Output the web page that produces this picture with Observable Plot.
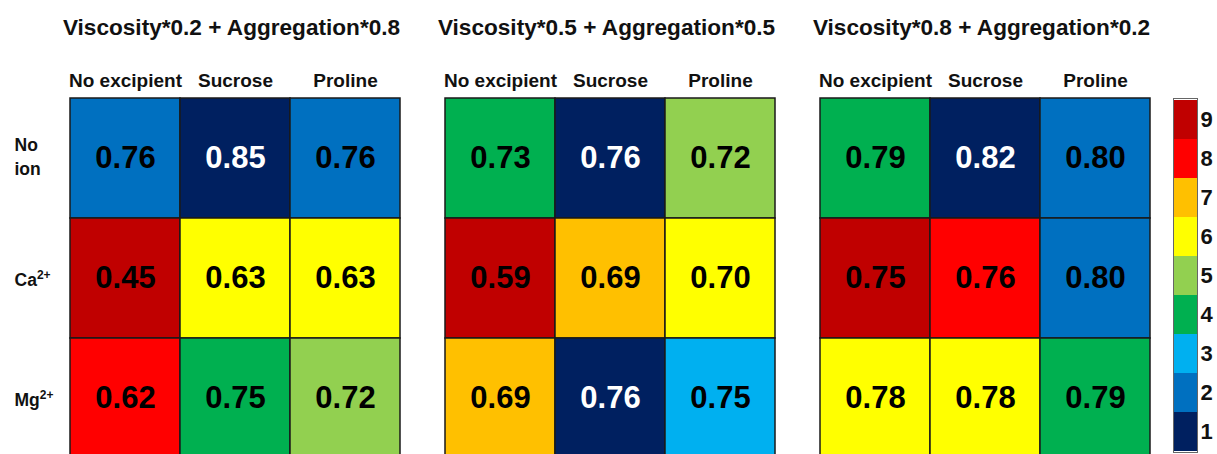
<!DOCTYPE html>
<html>
<head>
<meta charset="utf-8">
<script src="https://cdn.jsdelivr.net/npm/d3@7"></script>
<script src="https://cdn.jsdelivr.net/npm/@observablehq/plot@0.6"></script>
<style>
  html, body { margin: 0; padding: 0; background: #fff; overflow: hidden; }
  #wrap { position: relative; width: 1217px; height: 454px; }
  #wrap > svg { position: absolute; top: 0; }
</style>
</head>
<body>
<div id="wrap"></div>
<script>
const panels = ["Viscosity*0.2 + Aggregation*0.8", "Viscosity*0.5 + Aggregation*0.5", "Viscosity*0.8 + Aggregation*0.2"];
const excipients = ["No excipient", "Sucrose", "Proline"];
const ions = ["No\nion", "Ca²⁺", "Mg²⁺"];

// row-major: rows = ions, columns = excipients
const values1 = [0.76, 0.85, 0.76, 0.45, 0.63, 0.63, 0.62, 0.75, 0.72];
const values2 = [0.73, 0.76, 0.72, 0.59, 0.69, 0.70, 0.69, 0.76, 0.75];
const values3 = [0.79, 0.82, 0.80, 0.75, 0.76, 0.80, 0.78, 0.78, 0.79];
const ranks1 = [2, 1, 2, 9, 6, 6, 8, 4, 5];
const ranks2 = [4, 1, 5, 9, 7, 6, 7, 1, 3];
const ranks3 = [4, 1, 2, 9, 8, 2, 6, 6, 4];

const rankLevels = [1, 2, 3, 4, 5, 6, 7, 8, 9];
const rankColors = ["#002060", "#0070C0", "#00B0F0", "#00B050", "#92D050", "#FFFF00", "#FFC000", "#FF0000", "#C00000"];

const allValues = [values1, values2, values3];
const allRanks = [ranks1, ranks2, ranks3];
const data = [];
panels.forEach((p, pi) => {
  ions.forEach((ion, r) => {
    excipients.forEach((ex, c) => {
      data.push({panel: p, ion, ex, v: allValues[pi][r * 3 + c], rank: allRanks[pi][r * 3 + c]});
    });
  });
});

const font = "'Liberation Sans', Arial, Helvetica, sans-serif";

const main = Plot.plot({
  width: 1217,
  height: 460,
  marginLeft: 68,
  marginRight: 66,
  marginTop: 98,
  marginBottom: 2,
  style: {fontFamily: font, fontWeight: "bold", color: "#111", background: "transparent"},
  fx: {domain: panels, paddingInner: 0.116, paddingOuter: 0, axis: null},
  x: {domain: excipients, padding: 0},
  y: {domain: ions, padding: 0},
  color: {type: "ordinal", domain: rankLevels, range: rankColors},
  marks: [
    Plot.cell(data, {fx: "panel", x: "ex", y: "ion", fill: "rank", stroke: "#1a1a1a", strokeWidth: 1.5}),
    Plot.text(data, {fx: "panel", x: "ex", y: "ion", text: d => d.v.toFixed(2),
      fill: d => d.rank === 1 ? "white" : "black", fontSize: 31, fontWeight: "bold"}),
    Plot.axisX({anchor: "top", tickSize: 0, tickPadding: 12, fontSize: 19, label: null}),
    Plot.axisY({anchor: "left", tickSize: 0, tickPadding: 0, textAnchor: "start", dx: -55, dy: -3, fontSize: 17.5, lineHeight: 1.35, label: null}),
    Plot.text(panels, {fx: d => d, text: d => d, frameAnchor: "top", lineAnchor: "bottom", dx: -4, dy: -64, fontSize: 22.6, fontWeight: "bold"})
  ]
});
main.style.left = "0px";
document.getElementById("wrap").appendChild(main);

// render superscripts in ion labels as real tspans
d3.select(main).selectAll("text").each(function() {
  const t = this.textContent;
  const m = t.match(/^([A-Za-z]+)²⁺$/);
  if (m && this.children.length === 0) {
    const sel = d3.select(this);
    sel.text(null);
    sel.attr("dy", null).attr("transform", (sel.attr("transform") || "") + " translate(0,3)");
    sel.append("tspan").text(m[1]);
    sel.append("tspan").text("2+").attr("font-size", "12px").attr("dy", "-7");
  }
});

const legendData = rankLevels.map(r => ({rank: r, key: "k"}));
const legend = Plot.plot({
  width: 44,
  height: 454,
  marginLeft: 0,
  marginRight: 20,
  marginTop: 98,
  marginBottom: 2,
  style: {fontFamily: font, fontWeight: "bold", color: "#111", background: "transparent"},
  x: {domain: ["k"], padding: 0, axis: null},
  y: {domain: [...rankLevels].reverse(), padding: 0},
  color: {type: "ordinal", domain: rankLevels, range: rankColors},
  marks: [
    Plot.cell(legendData, {x: "key", y: "rank", fill: "rank"}),
    Plot.frame({stroke: "#666", strokeWidth: 1}),
    Plot.axisY({anchor: "right", tickSize: 0, tickPadding: 3, fontSize: 22, label: null})
  ]
});
legend.style.left = "1173px";
document.getElementById("wrap").appendChild(legend);
</script>
</body>
</html>
